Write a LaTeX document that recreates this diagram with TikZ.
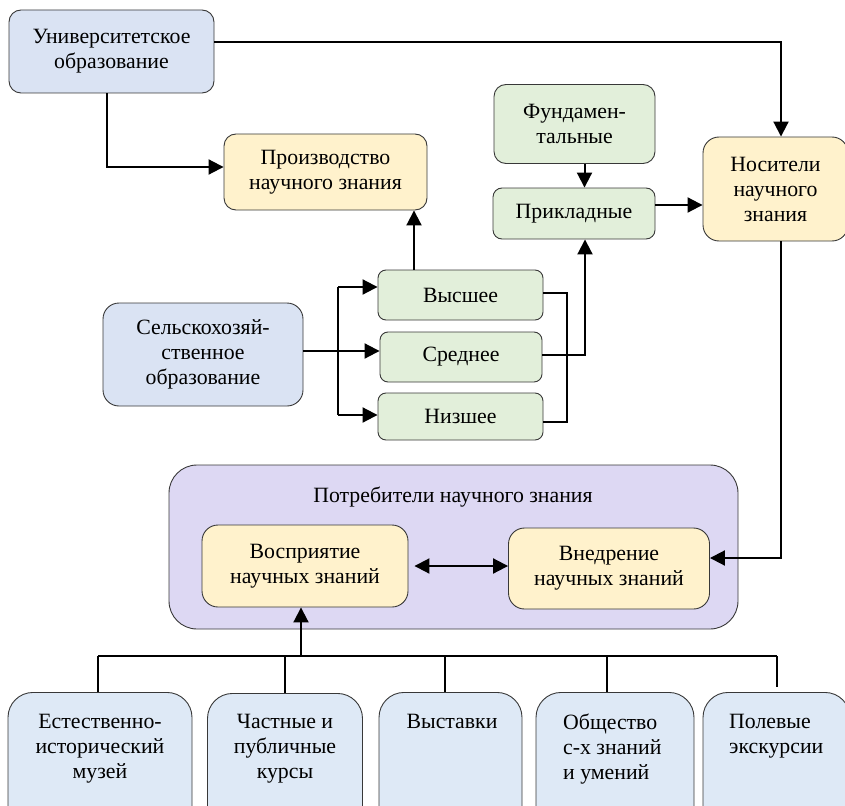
\documentclass[tikz,border=0pt]{standalone}
\usepackage{fontspec}
\setmainfont{Liberation Serif}
\usetikzlibrary{arrows.meta}
\definecolor{cblue}{HTML}{DAE3F3}
\definecolor{cblueb}{HTML}{DEE9F6}
\definecolor{cyel}{HTML}{FFF2CC}
\definecolor{cgreen}{HTML}{E2EFDA}
\definecolor{clav}{HTML}{DDD8F3}
\definecolor{bordc}{HTML}{383838}
\newcommand{\fsz}{\fontsize{21.8}{25}\selectfont}
\tikzset{
  bx/.style={draw=bordc, line width=0.9pt, rounded corners=12pt, inner sep=0pt, align=center, font=\fsz},
  txt/.style={inner sep=0pt, font=\fsz},
  conn/.style={line width=2pt, black},
  thinconn/.style={line width=1.4pt, black},
  arr/.style={conn, -{Triangle[length=15pt,width=15pt]}},
  darr/.style={conn, {Triangle[length=15pt,width=15pt]}-{Triangle[length=15pt,width=15pt]}},
}
\begin{document}
\begin{tikzpicture}[x=1pt,y=-1pt]
\useasboundingbox (0,0) rectangle (845,805);
\clip (0,0) rectangle (845,805);

% top boxes
\node[bx, fill=cblue, minimum width=205pt, minimum height=83pt] (univ) at (111.5,51.5) {Университетское\\образование};
\node[bx, fill=cyel, minimum width=203pt, minimum height=76pt] (proizv) at (325.5,172) {Производство\\научного знания};
\node[bx, fill=cgreen, minimum width=161pt, minimum height=79pt] (fund) at (574.5,124) {Фундамен-\\тальные};
\node[bx, fill=cgreen, rounded corners=9pt, minimum width=162pt, minimum height=51pt] (prikl) at (574,213.5) {Прикладные};
\node[bx, fill=cyel, rounded corners=16pt, minimum width=145pt, minimum height=104pt] (nosit) at (775.5,189) {Носители\\научного\\знания};

% middle
\node[bx, fill=cblue, rounded corners=16pt, minimum width=200pt, minimum height=103pt] (selsk) at (203,354.5) {Сельскохозяй-\\ственное\\образование};
\node[bx, fill=cgreen, rounded corners=8pt, minimum width=165pt, minimum height=50pt] (vys) at (460.5,295) {Высшее};
\node[bx, fill=cgreen, rounded corners=8pt, minimum width=162pt, minimum height=50pt] (sred) at (461,357) {Среднее};
\node[bx, fill=cgreen, rounded corners=8pt, minimum width=165pt, minimum height=47pt] (niz) at (460.5,416.5) {Низшее};

% consumers
\node[bx, fill=clav, rounded corners=28pt, minimum width=569pt, minimum height=164pt] (potr) at (453.5,547) {};
\node[txt] (potrt) at (453,497) {Потребители научного знания};
\node[bx, fill=cyel, rounded corners=16pt, minimum width=206pt, minimum height=82pt] (vospr) at (305,566) {Восприятие\\научных знаний};
\node[bx, fill=cyel, rounded corners=16pt, minimum width=201pt, minimum height=81pt] (vnedr) at (609,568.5) {Внедрение\\научных знаний};

% bottom boxes
\tikzset{bb/.style={bx, fill=cblueb, rounded corners=25pt, minimum height=150pt, anchor=north}}
\node[bb, minimum width=184pt] (b1) at (100,692) {};
\node[bb, minimum width=155pt] (b2) at (285,693) {};
\node[bb, minimum width=143pt] (b3) at (450.5,692) {};
\node[bb, minimum width=158pt] (b4) at (615,692) {};
\node[bb, minimum width=147pt] (b5) at (776.5,692) {};
\node[txt, align=center, anchor=north] (t1) at (100,714) {Естественно-\\исторический\\музей};
\node[txt, align=center, anchor=north] (t2) at (285,714) {Частные и\\публичные\\курсы};
\node[txt, align=center, anchor=north] (t3) at (452,714) {Выставки};
\node[txt, align=left, anchor=north west] (t4) at (563,714) {Общество\\с-х знаний\\и умений};
\node[txt, align=left, anchor=north west] (t5) at (729,714) {Полевые\\экскурсии};

% connectors top
\draw[arr] ([yshift=9.5pt]univ.east) -| ([xshift=5.5pt]nosit.north);
\draw[arr] ([xshift=-4.5pt]univ.south) |- ([yshift=5pt]proizv.west);
\draw[arr] ([xshift=-46.5pt]vys.north) -- ([xshift=88.5pt]proizv.south);
\draw[arr] ([xshift=10pt]fund.south) -- ([xshift=10.5pt]prikl.north);
\draw[arr] ([yshift=8.5pt]prikl.east) coordinate (pe) -- (pe -| nosit.west);
\draw[arr] ([xshift=5.5pt]nosit.south) |- ([yshift=10.5pt]vnedr.east);

% left bracket
\coordinate (lb1) at (338,287);
\coordinate (lb2) at (338,415);
\draw[arr] ([yshift=3.5pt]selsk.east) coordinate (se) -- (se -| sred.west);
\draw[conn] (lb1) -- (lb2);
\draw[arr] (lb1) -- (lb1 -| vys.west);
\draw[arr] (lb2) -- (lb2 -| niz.west);

% right bracket
\coordinate (rb) at (567,0);
\draw[thinconn] ([yshift=2pt]vys.east) -| (rb |- 0,422) -- ([yshift=-5.5pt]niz.east);
\draw[arr] ([yshift=2pt]sred.east) -| ([xshift=11pt]prikl.south);

% consumers double arrow
\draw[darr, shorten <=6pt] (vospr.east) -- (vospr.east -| vnedr.west);

% bus
\coordinate (bus1) at (98,656);
\coordinate (bus2) at (777,656);
\draw[conn] (bus1) -- (bus2);
\draw[arr] (bus1 -| 301,0) -- ([xshift=-4pt]vospr.south);
\draw[conn] (bus1) -- (bus1 |- b1.north);
\draw[conn] (bus1 -| b2.north) -- (b2.north);
\draw[conn] (bus1 -| 445,0) -- (b3.north -| 445,0);
\draw[conn] (bus1 -| 607,0) -- (b4.north -| 607,0);
\draw[conn] (bus2) -- (777,687);
\end{tikzpicture}
\end{document}
